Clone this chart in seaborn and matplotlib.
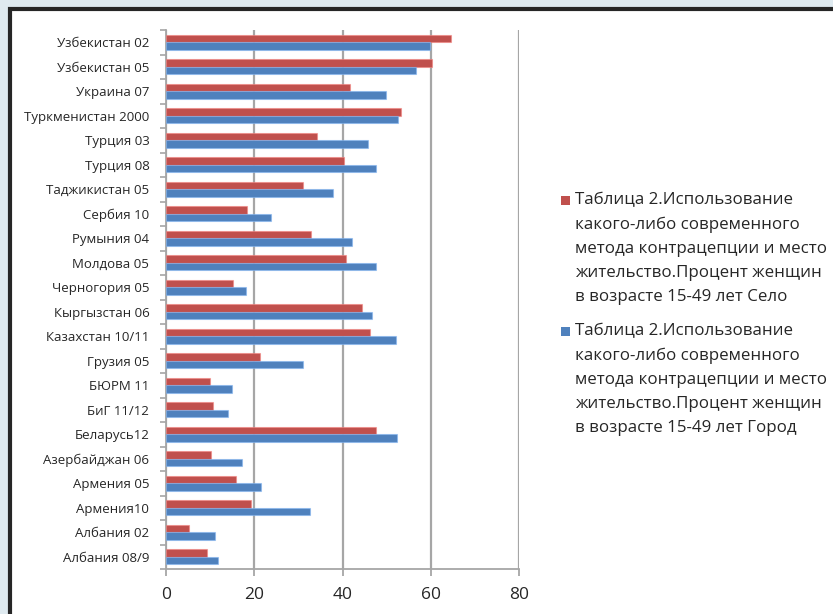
import matplotlib
matplotlib.use("Agg")
import matplotlib.pyplot as plt
from matplotlib.patches import Rectangle
from matplotlib.ticker import FixedLocator
import seaborn as sns
import pandas as pd
import numpy as np

countries = [
    "Узбекистан 02", "Узбекистан 05", "Украина 07", "Туркменистан 2000",
    "Турция 03", "Турция 08", "Таджикистан 05", "Сербия 10", "Румыния 04",
    "Молдова 05", "Черногория 05", "Кыргызстан 06", "Казахстан 10/11",
    "Грузия 05", "БЮРМ 11", "БиГ 11/12", "Беларусь12", "Азербайджан 06",
    "Армения 05", "Армения10", "Албания 02", "Албания 08/9",
]
rural = [64.5, 60.3, 41.8, 53.3, 34.3, 40.3, 31.1, 18.4, 32.9, 40.9, 15.1,
         44.5, 46.3, 21.4, 10.0, 10.6, 47.5, 10.2, 15.9, 19.2, 5.3, 9.4]
urban = [59.8, 56.6, 49.9, 52.5, 45.7, 47.7, 37.9, 23.8, 42.1, 47.7, 18.1,
         46.7, 52.1, 31.1, 15.0, 14.1, 52.3, 17.3, 21.5, 32.7, 11.1, 11.7]
series_names = [
    "Таблица 2.Использование\nкакого-либо современного\nметода контрацепции и место\nжительство.Процент женщин\nв возрасте 15-49 лет Село",
    "Таблица 2.Использование\nкакого-либо современного\nметода контрацепции и место\nжительство.Процент женщин\nв возрасте 15-49 лет Город",
]
x_ticks = [0, 20, 40, 60, 80]
colors = ["#C0504D", "#4F81BD"]

df = pd.DataFrame({
    "country": countries * 2,
    "value": rural + urban,
    "series": [series_names[0]] * len(countries) + [series_names[1]] * len(countries),
})

sns.set_theme(style="white")
plt.rcParams["font.family"] = ["Open Sans", "DejaVu Sans"]

W, H = 833, 614
fig = plt.figure(figsize=(W / 100, H / 100), dpi=100)
fig.patch.set_facecolor("#dfeaf0")

# white chart panel with a dark frame
panel = Rectangle((9.5 / W, -0.1), 1.1, 1.1 - 9.5 / H, transform=fig.transFigure,
                  facecolor="white", edgecolor="#262626", linewidth=3, zorder=-10)
fig.patches.append(panel)

ax = fig.add_axes([166 / W, 1 - 569 / H, (519 - 166) / W, (569 - 30) / H])
ax.set_zorder(2)
ax.set_facecolor("none")

sns.barplot(data=df, y="country", x="value", hue="series", order=countries,
            hue_order=series_names, palette=colors, orient="h", width=0.6,
            saturation=1, ax=ax, legend=False, edgecolor="none", zorder=3)

for bar in ax.patches:
    fc = bar.get_facecolor()
    bar.set_edgecolor((min(1, fc[0] + 0.2), min(1, fc[1] + 0.2), min(1, fc[2] + 0.2), 0.6))
    bar.set_linewidth(0.8)

ax.set_xlim(0, 80)
ax.set_ylim(len(countries) - 0.5, -0.5)
ax.set_xticks(x_ticks)
ax.set_xticklabels([str(t) for t in x_ticks], fontsize=12.5, color="#262626")
ax.set_xlabel("")
ax.set_ylabel("")

ax.grid(axis="x", color="#a6a6a6", linewidth=1.6, zorder=0)
ax.set_axisbelow(True)

for side in ["top", "right"]:
    ax.spines[side].set_visible(False)
for side in ["left", "bottom"]:
    ax.spines[side].set_color("#a6a6a6")
    ax.spines[side].set_linewidth(1.3)

# category boundary ticks on the value axis
ax.yaxis.set_minor_locator(FixedLocator(np.arange(-0.5, len(countries), 1.0)))
ax.tick_params(axis="y", which="major", length=0, pad=12, labelsize=9.5, labelcolor="#262626")
ax.tick_params(axis="y", which="minor", length=4, width=1.2, color="#a6a6a6", left=True)
ax.tick_params(axis="x", which="major", length=5, width=1.3, color="#a6a6a6", bottom=True, pad=8)

# legend block
leg_x = 575 / W
leg_y = [192, 323]
for name, col, yy in zip(series_names, colors, leg_y):
    fig.patches.append(Rectangle((561 / W, 1 - (yy + 13) / H), 9 / W, 9 / H,
                                 transform=fig.transFigure, facecolor=col,
                                 edgecolor="none", zorder=5))
    fig.text(leg_x, 1 - yy / H, name, ha="left", va="top", fontsize=12.2,
             color="#262626", linespacing=1.67)

fig.savefig("out.png", dpi=100, facecolor=fig.get_facecolor())
